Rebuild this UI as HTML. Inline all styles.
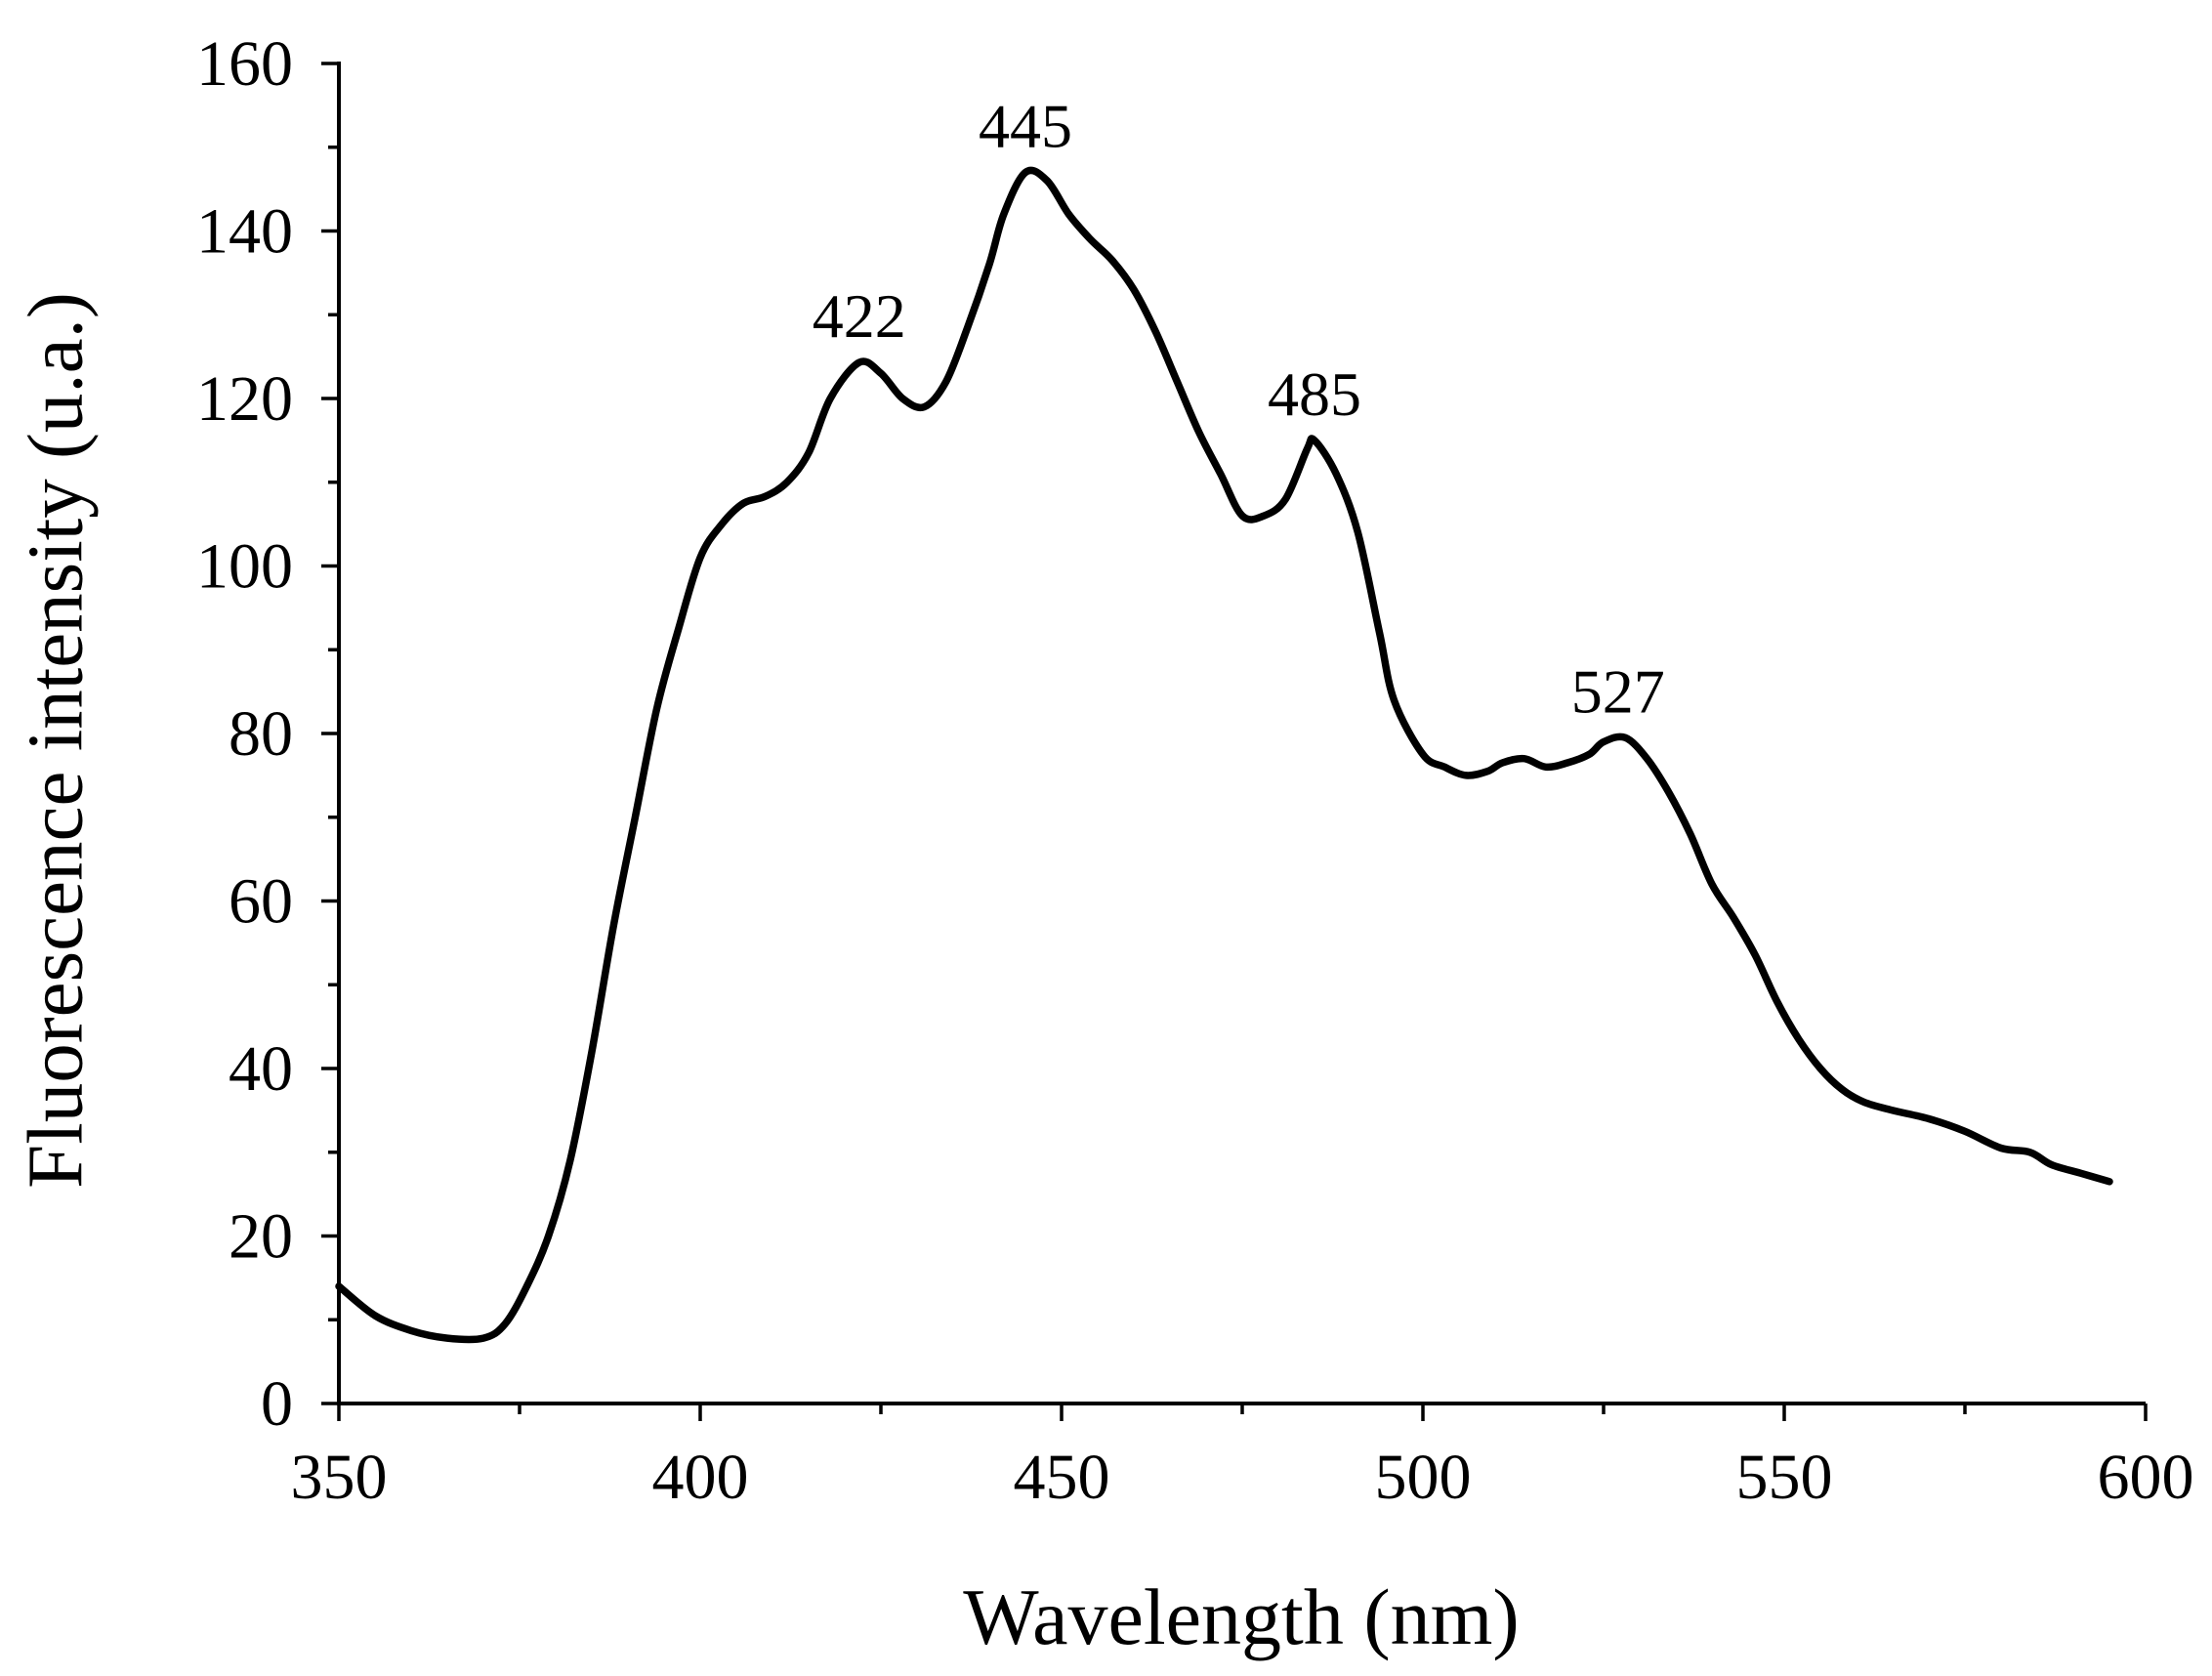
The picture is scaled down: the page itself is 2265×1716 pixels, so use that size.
<!DOCTYPE html>
<html><head><meta charset="utf-8"><style>
html,body{margin:0;padding:0;background:#fff;}
svg{display:block;font-family:"Liberation Serif","DejaVu Serif",serif;}
</style></head><body>
<svg id="chart" width="2265" height="1716" viewBox="0 0 2265 1716">
<g id="axes"></g>
<g id="labels"></g>
<path id="curve" fill="none" stroke="#000" stroke-width="7.5" stroke-linejoin="round" stroke-linecap="round"/>
<text x="65" y="758" transform="rotate(-90 65 758)" text-anchor="middle" dominant-baseline="middle" font-size="81">Fluorescence intensity (u.a.)</text>
<text x="1271" y="1683" text-anchor="middle" font-size="82">Wavelength (nm)</text>
</svg>
<script>
const wavelengths=[350,355,360,365,370,373,376,379,382,385,388,391,394,397,400,403,406,409,412,415,418,422,425,428,431,434,437,440,442,445,448,451,454,457,460,463,466,469,472,475,478,481,484,485,488,491,494,496,500,503,506,509,511,514,517,520,523,525,528,531,534,537,540,543,546,549,552,555,558,561,565,570,575,580,584,587,591,595];
const intensity=[14,10.5,8.7,7.8,7.8,9.5,14,20,29,42,57,70,83,92.5,101,105,107.5,108.3,110,113.5,120,124.3,123,120,119,122,128.5,136,142,147,146,142,139,136.5,133,128,122,116,111,106,106,108,114,115,111,104,92,84,77.5,76,75,75.5,76.5,77,76,76.5,77.5,79,79.5,77,73,68,62,58,53.5,48,43.5,40,37.5,36,35,34,32.5,30.5,30,28.5,27.5,26.5];
const xTicks=[350,400,450,500,550,600];
const yTicks=[0,20,40,60,80,100,120,140,160];
const peakLabels=["422","445","485","527"];
const peakX=[422,445,485,527];
const peakY=[124.3,147,115,79.5];

const X0=347,X1=2197,Y0=1437,Y1=65;
const sx=v=>X0+(v-350)/(600-350)*(X1-X0);
const sy=v=>Y0-(v-0)/160*(Y0-Y1);
const NS="http://www.w3.org/2000/svg";
const axes=document.getElementById('axes'),labels=document.getElementById('labels');
function mk(tag,parent,attrs){const e=document.createElementNS(NS,tag);for(const k in attrs)e.setAttribute(k,attrs[k]);parent.appendChild(e);return e;}
let l=mk('line',axes,{x1:X0,y1:Y0,x2:X1,y2:Y0,stroke:'#000','stroke-width':4});


l=mk('line',axes,{x1:X0,y1:Y0+2,x2:X0,y2:Y1-2,stroke:'#000','stroke-width':4});


for(let v=350;v<=600;v+=25){const major=(v%50===0);
 const t=mk('line',axes,{x1:sx(v),y1:Y0,x2:sx(v),y2:Y0+(major?18:11),stroke:'#000','stroke-width':3.5});
 
 }
for(let v=0;v<=160;v+=10){const major=(v%20===0);
 const t=mk('line',axes,{x1:X0,y1:sy(v),x2:X0-(major?18:11),y2:sy(v),stroke:'#000','stroke-width':3.5});
 
 }
xTicks.forEach(v=>{const t=mk('text',labels,{x:sx(v),y:1534,'text-anchor':'middle','font-size':66});t.textContent=v;
 
 });
yTicks.forEach(v=>{const t=mk('text',labels,{x:300,y:sy(v)+22,'text-anchor':'end','font-size':66});t.textContent=v;
 
 });
peakLabels.forEach((s,i)=>{const t=mk('text',labels,{x:sx(peakX[i]),y:sy(peakY[i])-26,'text-anchor':'middle','font-size':64});t.textContent=s;
 
 });
const P=wavelengths.map((w,i)=>[sx(w),sy(intensity[i])]);
let d='M'+P[0][0].toFixed(1)+','+P[0][1].toFixed(1);
for(let i=0;i<P.length-1;i++){
 const p0=P[Math.max(0,i-1)],p1=P[i],p2=P[i+1],p3=P[Math.min(P.length-1,i+2)];
 const c1=[p1[0]+(p2[0]-p0[0])/6,p1[1]+(p2[1]-p0[1])/6];
 const c2=[p2[0]-(p3[0]-p1[0])/6,p2[1]-(p3[1]-p1[1])/6];
 d+=' C'+c1.map(v=>v.toFixed(1)).join(',')+' '+c2.map(v=>v.toFixed(1)).join(',')+' '+p2.map(v=>v.toFixed(1)).join(',');
}
document.getElementById('curve').setAttribute('d',d);
</script>
</body></html>
